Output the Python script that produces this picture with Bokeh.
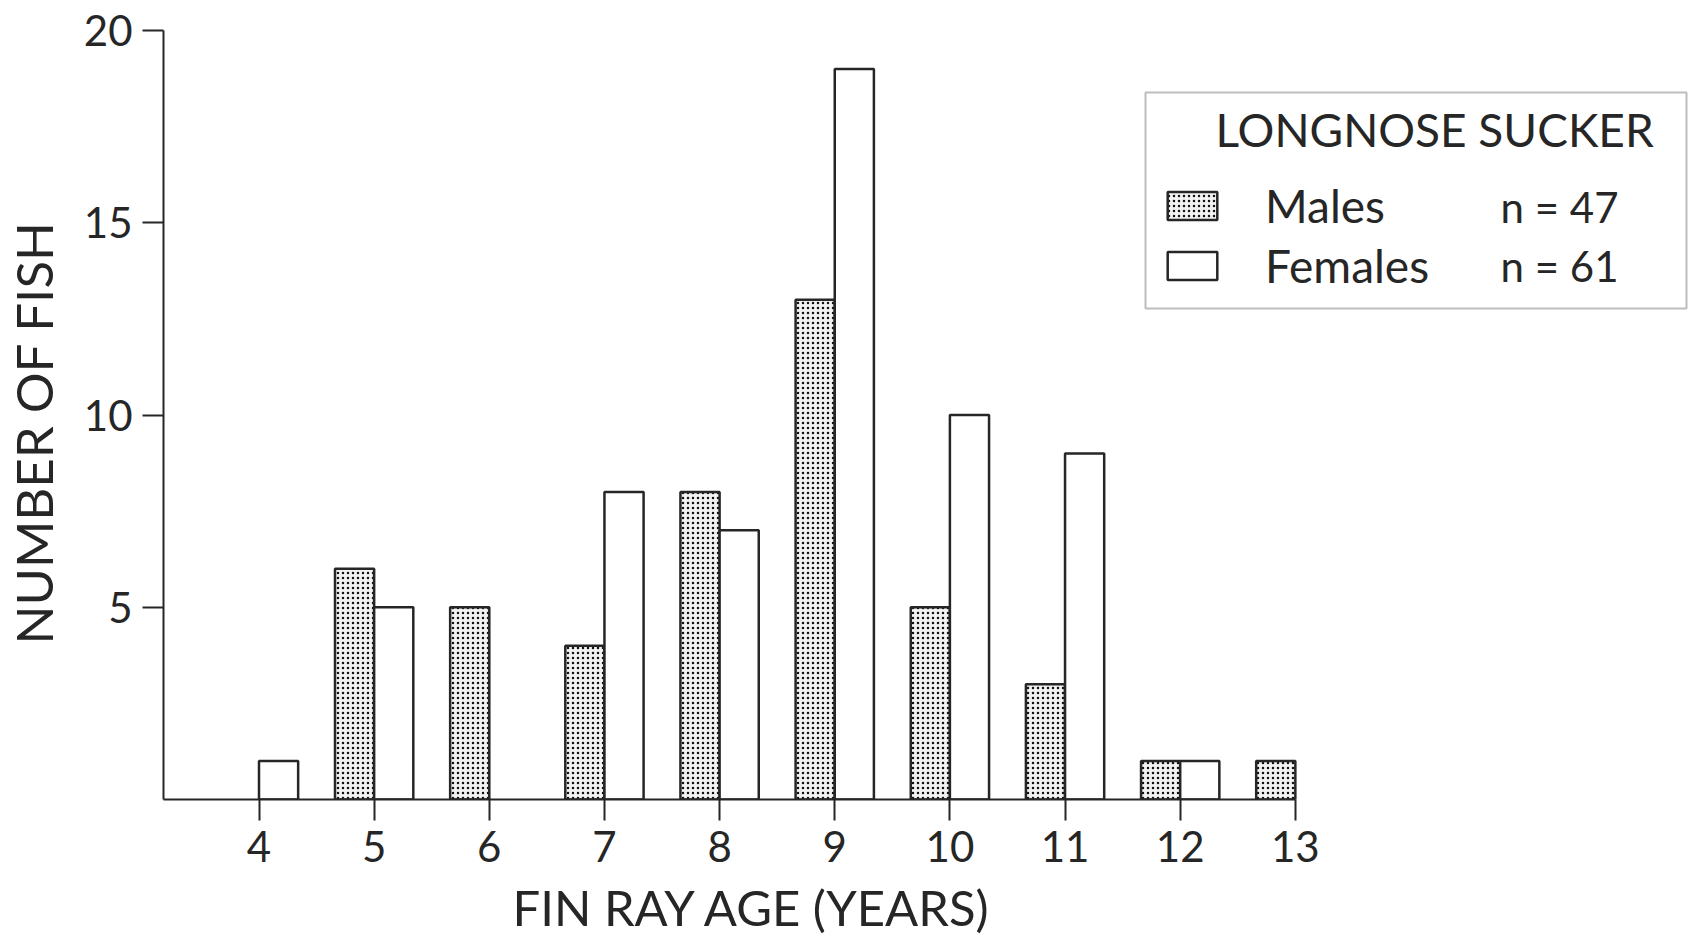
from bokeh.plotting import figure
from bokeh.models import (ColumnDataSource, Legend, LegendItem, Label,
                          BoxAnnotation, FixedTicker, Title, LinearAxis)
from bokeh.embed import file_html
from bokeh.resources import INLINE

# ---------------- data ----------------
ages = [4, 5, 6, 7, 8, 9, 10, 11, 12, 13]
males = [0, 6, 5, 4, 8, 13, 5, 3, 1, 1]
females = [1, 5, 0, 8, 7, 19, 10, 9, 1, 0]
y_ticks = [5, 10, 15, 20]
series_names = ["Males", "Females"]
series_counts = ["n = 47", "n = 61"]
legend_title = "LONGNOSE SUCKER"
x_title = "FIN RAY AGE (YEARS)"
y_title = "NUMBER OF FISH"

# ---------------- layout ----------------
W, H = 1689, 936
LEFT, BOTTOM = 163, 799          # frame left edge / frame bottom (px)
XPX, YPX = 115.15, 38.45         # pixels per data unit
X0 = 4 - (258.5 - LEFT) / XPX
X1 = X0 + (W - LEFT) / XPX
Y1 = BOTTOM / YPX
BAR_W = 0.34
INK = "#262626"
FONT = "Lato"


def px2x(px):
    return X0 + (px - LEFT) / XPX


def py2y(py):
    return (BOTTOM - py) / YPX


def spacer(size, at):
    """An invisible axis (white tick, no label) that only reserves room."""
    return LinearAxis(ticker=FixedTicker(ticks=[at]), axis_line_color=None,
                      major_tick_line_color="white", major_tick_line_width=1,
                      minor_tick_line_color=None,
                      major_tick_out=size, major_tick_in=0,
                      major_label_text_color=None,
                      major_label_text_font_size="0px",
                      major_label_standoff=0)


p = figure(width=W, height=H, x_range=(X0, X1), y_range=(0, Y1),
           output_backend="svg", toolbar_location=None,
           min_border_left=LEFT, min_border_right=0, min_border_top=0,
           min_border_bottom=H - BOTTOM)
p.outline_line_color = None
p.grid.visible = False
p.background_fill_color = "white"
p.border_fill_color = "white"

for ax in (p.xaxis[0], p.yaxis[0]):
    ax.axis_line_width = 2
    ax.axis_line_color = INK
    ax.major_tick_line_width = 2
    ax.major_tick_line_color = INK
    ax.major_tick_out = 21
    ax.major_tick_in = 0
    ax.minor_tick_line_color = None
    ax.major_label_text_font = FONT
    ax.major_label_text_font_size = "42px"
    ax.major_label_text_color = INK

p.xaxis.bounds = (X0, 13)
p.xaxis.ticker = FixedTicker(ticks=ages)
p.xaxis.major_label_standoff = 10
p.yaxis.bounds = (0, 20)
p.yaxis.ticker = FixedTicker(ticks=y_ticks)
p.yaxis.major_label_standoff = 10

# ---------------- axis titles ----------------
p.add_layout(spacer(11, X1 - 0.05), "below")
p.add_layout(Title(text=x_title, align="left", offset=512 - LEFT,
                   vertical_align="bottom", standoff=0,
                   text_font=FONT, text_font_size="49px",
                   text_font_style="normal", text_color=INK), "below")
p.add_layout(spacer(17, Y1 - 0.05), "left")
p.add_layout(Title(text=y_title, align="left", offset=BOTTOM - 644,
                   vertical_align="bottom", standoff=0,
                   text_font=FONT, text_font_size="51px",
                   text_font_style="normal", text_color=INK), "left")

# ---------------- bars ----------------
m_idx = [i for i, v in enumerate(males) if v > 0]
f_idx = [i for i, v in enumerate(females) if v > 0]
src_m = ColumnDataSource(dict(x=[ages[i] - BAR_W / 2 for i in m_idx],
                              top=[males[i] for i in m_idx]))
src_f = ColumnDataSource(dict(x=[ages[i] + BAR_W / 2 for i in f_idx],
                              top=[females[i] for i in f_idx]))

r_m = p.vbar(x="x", top="top", bottom=0, width=BAR_W, source=src_m,
             fill_color="#f2f2f2", hatch_pattern="dot", hatch_color="#111111",
             hatch_scale=5, hatch_weight=2,
             line_color=INK, line_width=2.5)
r_f = p.vbar(x="x", top="top", bottom=0, width=BAR_W, source=src_f,
             fill_color="white", line_color=INK, line_width=2.5)

# ---------------- legend ----------------
legend = Legend(items=[LegendItem(label=series_names[0], renderers=[r_m]),
                       LegendItem(label=series_names[1], renderers=[r_f])],
                location=(1161 - LEFT, BOTTOM - 294),
                orientation="vertical",
                padding=0, margin=0, spacing=2,
                glyph_width=62, glyph_height=35,
                label_height=58, label_standoff=42,
                label_text_font=FONT, label_text_font_size="46px",
                label_text_color=INK,
                border_line_alpha=0, background_fill_alpha=0)
p.add_layout(legend)

p.add_layout(BoxAnnotation(left=px2x(1145), right=px2x(1686),
                           top=py2y(92), bottom=py2y(308),
                           fill_alpha=0, line_color=INK, line_width=2))

p.add_layout(Label(x=px2x(1215), y=py2y(129), text=legend_title,
                   text_font=FONT, text_font_size="46px", text_color=INK,
                   text_align="left", text_baseline="alphabetic"))
for txt, base in zip(series_counts, (206, 265)):
    p.add_layout(Label(x=px2x(1500), y=py2y(base), text=txt,
                       text_font=FONT, text_font_size="42px", text_color=INK,
                       text_align="left", text_baseline="alphabetic"))

open("out.html", "w").write(file_html(p, INLINE))
